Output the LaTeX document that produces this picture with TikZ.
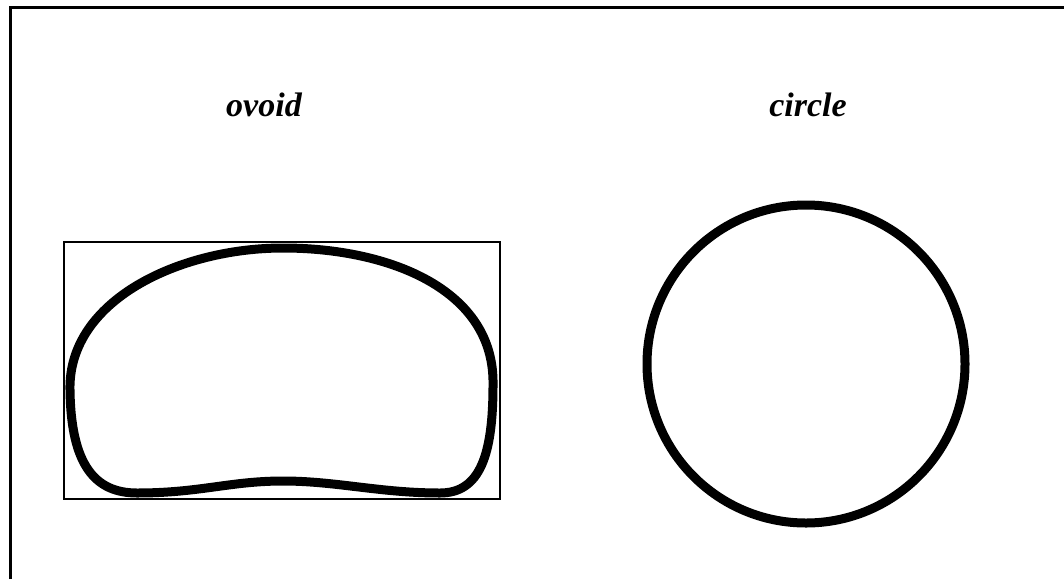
\documentclass[tikz,border=0pt]{standalone}
\usepackage{fontspec}
\setmainfont{Liberation Serif}
\begin{document}
\begin{tikzpicture}[x=1pt,y=-1pt,
  frameline/.style={line width=3pt},
  boxline/.style={line width=1.5pt},
  shapeline/.style={line width=9pt, line join=round},
  lbl/.style={font=\fontsize{34}{40}\selectfont\bfseries\itshape, anchor=base, inner sep=0pt}]
\useasboundingbox (0,0) rectangle (1064,579);
% frame
\coordinate (fbl) at (10,579);
\coordinate (ftl) at (10,7);
\coordinate (ftr) at (1064,7);
\draw[frameline] (fbl) -- (ftl) -- (ftr);
% labels
\node[lbl] (lovoid) at (264,116) {ovoid};
\node[lbl] (lcircle) at (808,116) {circle};
% bounding rectangle
\node[draw, boxline, minimum width=436pt, minimum height=257pt, inner sep=0pt] (box) at (282,370.5) {};
% ovoid
\coordinate (oL) at (70,390);
\coordinate (oT) at (283,248);
\coordinate (oR) at (493,385);
\coordinate (oBL) at (137,493);
\coordinate (oB) at (283,481);
\coordinate (oBR) at (440,493);
\draw[shapeline] (oL) .. controls (68,300) and (180,248) .. (oT)
  .. controls (390,248) and (495,290) .. (oR)
  .. controls (493,455) and (480,493) .. (oBR)
  .. controls (380,493) and (336,481) .. (oB)
  .. controls (230,481) and (200,493) .. (oBL)
  .. controls (95,493) and (71,465) .. cycle;
% circle
\node[draw, shapeline, circle, minimum size=318pt, inner sep=0pt] (circ) at (806,364) {};
\end{tikzpicture}
\end{document}
